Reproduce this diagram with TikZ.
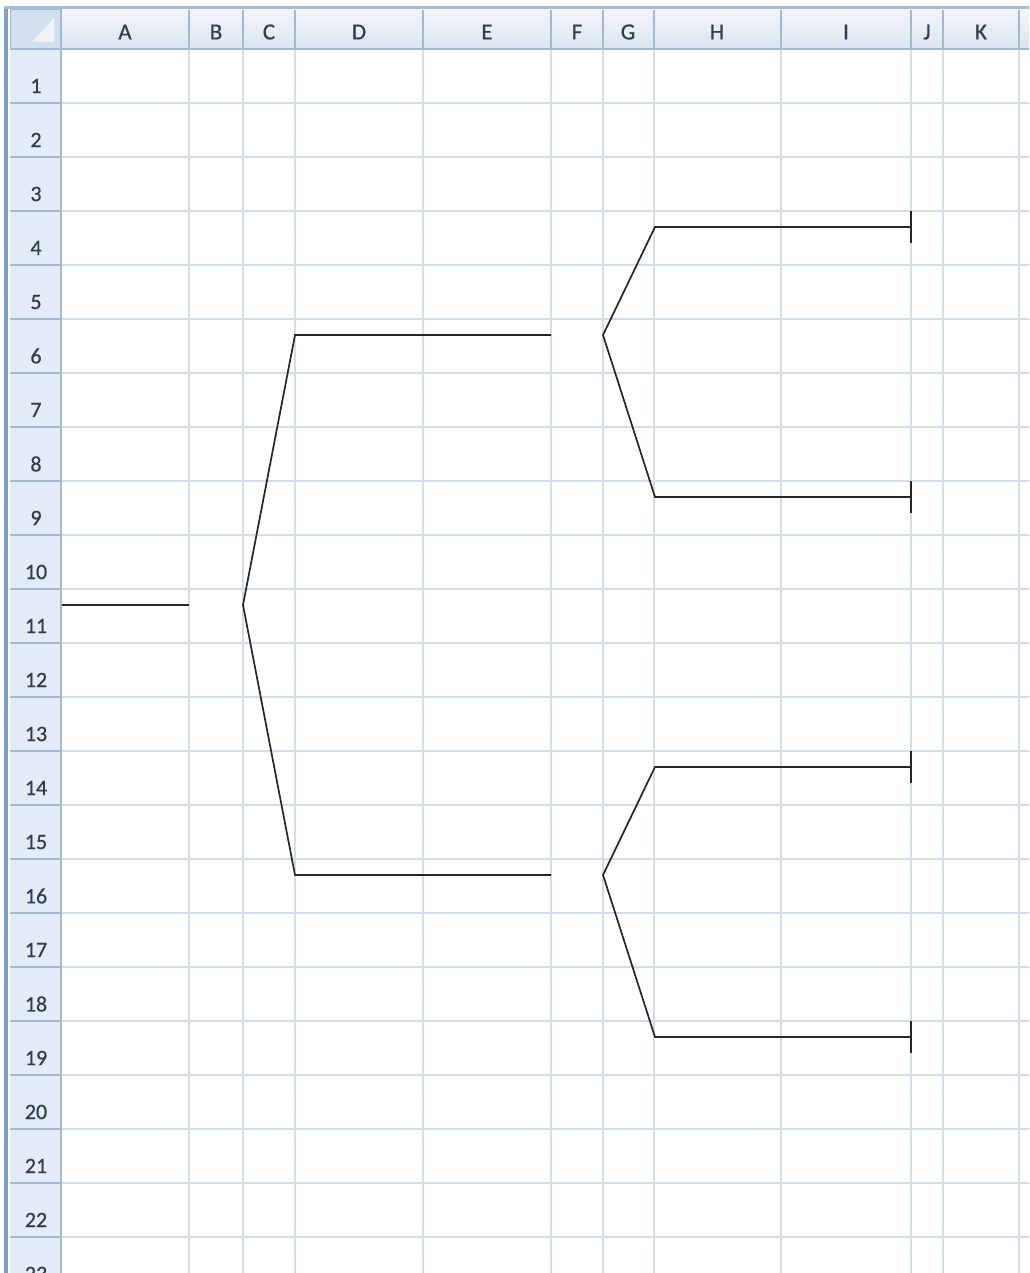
\documentclass[tikz,border=0pt]{standalone}
\usepackage{fontspec}
\setmainfont{Carlito}
\newfontfamily\sheetfont{Carlito}[FakeBold=0.6]
\usetikzlibrary{positioning}
\definecolor{gridline}{HTML}{D5DCE9}
\definecolor{hdrfill}{HTML}{E4ECF7}
\definecolor{hdrtop}{HTML}{F4F7FB}
\definecolor{hdrbot}{HTML}{DCE4EF}
\definecolor{hdrsep}{HTML}{A3B9D1}
\definecolor{hdrink}{HTML}{2F3D50}
\definecolor{sheetblue}{HTML}{809FC9}
\definecolor{cornerfill}{HTML}{D2DFF0}

\begin{document}
\begin{tikzpicture}[
    x=1pt, y=-1pt,
    hdrlabel/.style={font=\sheetfont\fontsize{23}{23}\selectfont, text=hdrink, inner sep=0pt},
    rowlabel/.style={font=\sheetfont\fontsize{22}{22}\selectfont, text=hdrink, inner sep=0pt},
    branch/.style={line width=1.7pt, draw=black!85},
    tickmark/.style={line width=2.2pt, draw=black!85}
]
\useasboundingbox (0,0) rectangle (1029,1273);
\clip (0,0) rectangle (1029,1273);
\fill[white] (0,0) rectangle (1029,1273);

% sheet frame: header row, row header, corner
\shade[top color=hdrtop, bottom color=hdrbot] (61,9) rectangle (1029,49);
\fill[hdrfill] (10,49) rectangle (61,1273);
\fill[sheetblue] (4,9) rectangle (8,1273);
\fill[sheetblue!70] (4,6) rectangle (1029,9);
\filldraw[fill=cornerfill, draw=hdrsep] (10,9) rectangle (61,49);
\fill[white!60!gridline] (32,42) -- (54,42) -- (54,18) -- cycle;

% cell grid
\foreach \cx in {189,243,295,423,551,603,654,781,911,943,1019}
  \draw[gridline, line width=1.2pt] (\cx,49) -- (\cx,1273);
\foreach \k in {1,...,22}
  \draw[gridline, line width=1.2pt] (61,49+54*\k) -- (1029,49+54*\k);

% header separators
\foreach \cx in {61,189,243,295,423,551,603,654,781,911,943,1019}
  \draw[hdrsep, line width=1.2pt] (\cx,10) -- (\cx,49);
\draw[hdrsep, line width=1.2pt] (10,49) -- (1029,49);
\draw[hdrsep, line width=1.2pt] (61,49) -- (61,1273);
\foreach \k in {1,...,22}
  \draw[hdrsep, line width=1.2pt] (10,49+54*\k) -- (61,49+54*\k);

% column letters
\foreach \lx/\lt [count=\i] in {125/A,216/B,269/C,359/D,487/E,577/F,628/G,717/H,846/I,927/J,981/K}
  \node[hdrlabel] (col\i) at (\lx,32) {\lt};

% row numbers
\foreach \k in {1,...,23}
  \node[rowlabel] (row\k) at (36,32+54*\k) {\k};

% bracket
\coordinate (stem) at (62,605);
\coordinate (stemend) at (189,605);
\coordinate (fork) at (243,605);
\coordinate (upper) at (295,335);
\coordinate (upperend) at (551,335);
\coordinate (lower) at (295,875);
\coordinate (lowerend) at (551,875);
\coordinate (upfork) at (603,335);
\coordinate (dnfork) at (603,875);
\coordinate (leafa) at (655,227);
\coordinate (leafaend) at (911,227);
\coordinate (leafb) at (655,497);
\coordinate (leafbend) at (911,497);
\coordinate (leafc) at (655,767);
\coordinate (leafcend) at (911,767);
\coordinate (leafd) at (655,1037);
\coordinate (leafdend) at (911,1037);

\draw[branch] (stem) -- (stemend);
\draw[branch] (upperend) -- (upper) -- (fork) -- (lower) -- (lowerend);
\draw[branch] (leafaend) -- (leafa) -- (upfork) -- (leafb) -- (leafbend);
\draw[branch] (leafcend) -- (leafc) -- (dnfork) -- (leafd) -- (leafdend);
\foreach \leaf in {leafaend,leafbend,leafcend,leafdend}
  \draw[tickmark] ([yshift=16pt]\leaf) -- ([yshift=-16pt]\leaf);
\end{tikzpicture}
\end{document}
